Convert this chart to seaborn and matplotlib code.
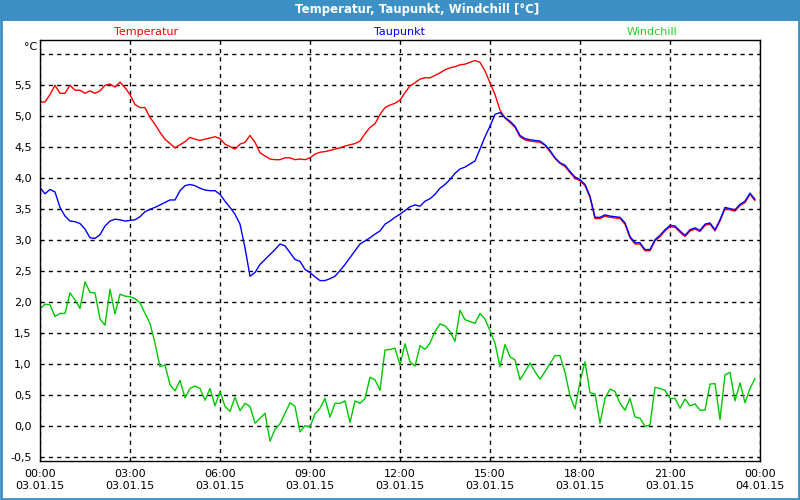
import numpy as np
import pandas as pd
import matplotlib.pyplot as plt
import seaborn as sns
from matplotlib.patches import Rectangle

# Datos: una medición cada 10 minutos (00:00 - 23:50)
horas = np.arange(144) / 6

temperatura = [
    5.23, 5.23, 5.35, 5.50, 5.37, 5.37, 5.50, 5.42, 5.42, 5.37,
    5.41, 5.37, 5.41, 5.50, 5.52, 5.47, 5.55, 5.46, 5.35, 5.19,
    5.14, 5.14, 4.98, 4.87, 4.74, 4.63, 4.56, 4.49, 4.54, 4.59,
    4.66, 4.63, 4.61, 4.63, 4.65, 4.67, 4.64, 4.55, 4.51, 4.47,
    4.55, 4.58, 4.69, 4.58, 4.41, 4.36, 4.31, 4.30, 4.30, 4.33,
    4.33, 4.30, 4.31, 4.30, 4.33, 4.39, 4.42, 4.43, 4.45, 4.47,
    4.49, 4.52, 4.54, 4.56, 4.60, 4.72, 4.82, 4.88, 5.03, 5.14,
    5.18, 5.21, 5.26, 5.38, 5.49, 5.54, 5.60, 5.62, 5.62, 5.66,
    5.70, 5.75, 5.78, 5.80, 5.83, 5.84, 5.87, 5.90, 5.87, 5.73,
    5.54, 5.35, 5.10, 4.97, 4.90, 4.82, 4.67, 4.62, 4.60, 4.59,
    4.58, 4.53, 4.43, 4.32, 4.24, 4.19, 4.09, 4.00, 3.96, 3.88,
    3.69, 3.35, 3.35, 3.39, 3.37, 3.36, 3.35, 3.26, 3.04, 2.94,
    2.94, 2.83, 2.83, 2.99, 3.06, 3.15, 3.22, 3.21, 3.13, 3.06,
    3.15, 3.18, 3.14, 3.24, 3.26, 3.15, 3.31, 3.51, 3.49, 3.47,
    3.56, 3.61, 3.74, 3.64,
]

taupunkt = [
    3.85, 3.75, 3.82, 3.78, 3.53, 3.39, 3.31, 3.30, 3.27, 3.18,
    3.04, 3.03, 3.09, 3.23, 3.31, 3.34, 3.33, 3.31, 3.32, 3.33,
    3.38, 3.46, 3.50, 3.53, 3.57, 3.61, 3.65, 3.65, 3.80, 3.88,
    3.90, 3.88, 3.84, 3.81, 3.80, 3.80, 3.74, 3.63, 3.53, 3.42,
    3.26, 2.88, 2.42, 2.48, 2.61, 2.69, 2.77, 2.85, 2.94, 2.91,
    2.80, 2.69, 2.66, 2.53, 2.48, 2.41, 2.35, 2.35, 2.38, 2.42,
    2.51, 2.61, 2.72, 2.83, 2.94, 2.99, 3.04, 3.10, 3.15, 3.26,
    3.31, 3.37, 3.42, 3.48, 3.54, 3.57, 3.55, 3.63, 3.67, 3.74,
    3.84, 3.90, 3.98, 4.08, 4.15, 4.18, 4.23, 4.28, 4.47, 4.67,
    4.84, 5.03, 5.06, 4.98, 4.92, 4.84, 4.69, 4.64, 4.62, 4.61,
    4.60, 4.54, 4.45, 4.33, 4.25, 4.21, 4.11, 4.02, 3.98, 3.90,
    3.71, 3.37, 3.37, 3.41, 3.39, 3.38, 3.37, 3.28, 3.06, 2.96,
    2.96, 2.85, 2.85, 3.01, 3.08, 3.17, 3.24, 3.23, 3.15, 3.08,
    3.17, 3.20, 3.16, 3.26, 3.28, 3.17, 3.33, 3.53, 3.51, 3.49,
    3.58, 3.63, 3.76, 3.66,
]

windchill = [
    1.89, 1.97, 1.96, 1.77, 1.82, 1.82, 2.15, 2.04, 1.90, 2.33,
    2.16, 2.15, 1.73, 1.63, 2.21, 1.81, 2.13, 2.10, 2.09, 2.06,
    1.99, 1.82, 1.66, 1.34, 0.96, 0.99, 0.67, 0.57, 0.74, 0.46,
    0.61, 0.65, 0.61, 0.42, 0.61, 0.33, 0.56, 0.32, 0.24, 0.47,
    0.25, 0.37, 0.32, 0.05, 0.13, 0.21, -0.24, -0.05, 0.04, 0.21,
    0.38, 0.32, -0.09, 0.01, -0.01, 0.20, 0.29, 0.45, 0.15, 0.37,
    0.37, 0.41, 0.06, 0.41, 0.37, 0.45, 0.79, 0.75, 0.58, 1.23,
    1.24, 1.26, 0.99, 1.33, 1.04, 0.97, 1.30, 1.24, 1.34, 1.53,
    1.65, 1.62, 1.53, 1.37, 1.87, 1.72, 1.69, 1.66, 1.82, 1.73,
    1.54, 1.34, 0.96, 1.32, 1.12, 1.07, 0.75, 0.88, 1.02, 0.88,
    0.76, 0.88, 1.01, 1.14, 1.14, 0.87, 0.49, 0.28, 0.72, 1.04,
    0.54, 0.52, 0.05, 0.45, 0.60, 0.56, 0.37, 0.26, 0.45, 0.15,
    0.13, 0.00, 0.02, 0.63, 0.61, 0.58, 0.45, 0.45, 0.29, 0.44,
    0.33, 0.36, 0.26, 0.26, 0.68, 0.69, 0.11, 0.83, 0.87, 0.41,
    0.70, 0.38, 0.61, 0.77,
]

ticks_x = [0, 3, 6, 9, 12, 15, 18, 21, 24]
etiquetas_x = ['00:00\n03.01.15', '03:00\n03.01.15', '06:00\n03.01.15',
               '09:00\n03.01.15', '12:00\n03.01.15', '15:00\n03.01.15',
               '18:00\n03.01.15', '21:00\n03.01.15', '00:00\n04.01.15']
ticks_y = [-0.5, 0.0, 0.5, 1.0, 1.5, 2.0, 2.5, 3.0, 3.5, 4.0, 4.5, 5.0, 5.5, 6.0]
etiquetas_y = ['-0,5', '0,0', '0,5', '1,0', '1,5', '2,0', '2,5', '3,0',
               '3,5', '4,0', '4,5', '5,0', '5,5', '']

df = pd.DataFrame({'hora': horas, 'Temperatur': temperatura,
                   'Taupunkt': taupunkt, 'Windchill': windchill})

sns.set_style('white')
plt.rcParams['font.family'] = ['DejaVu Sans', 'Noto Sans']

fig = plt.figure(figsize=(8, 5), dpi=100)
fig.patch.set_facecolor('white')

# Barra de título azul y marco
azul = '#3d90c4'
fig.patches.append(Rectangle((0, 1 - 21 / 500), 1, 21 / 500, transform=fig.transFigure,
                             facecolor=azul, edgecolor='none', zorder=0))
fig.patches.append(Rectangle((0.001, 0.002), 0.998, 0.996, transform=fig.transFigure,
                             facecolor='none', edgecolor=azul, linewidth=2, zorder=0))
fig.text(417 / 800, 1 - 10 / 500, 'Temperatur, Taupunkt, Windchill [°C]', color='white',
         fontsize=8.5, fontweight='bold', ha='center', va='center')

ax = fig.add_axes([0.05, 0.078, 0.9, 0.842])

sns.lineplot(data=df, x='hora', y='Temperatur', color='#ff0000', linewidth=1, ax=ax)
sns.lineplot(data=df, x='hora', y='Windchill', color='#00c800', linewidth=1, ax=ax)
sns.lineplot(data=df, x='hora', y='Taupunkt', color='#0000ff', linewidth=1, ax=ax)

ax.set_xlim(0, 24)
ax.set_ylim(-0.56, 6.23)
ax.set_xticks(ticks_x)
ax.set_xticklabels(etiquetas_x)
ax.set_xticks(range(25), minor=True)
ax.set_yticks(ticks_y)
ax.set_yticklabels(etiquetas_y)
ax.set_xlabel('')
ax.set_ylabel('')

# Cuadrícula punteada negra
ax.grid(True, which='major', color='black', linestyle=(0, (3, 3)), linewidth=1)
ax.tick_params(axis='x', which='both', length=4, width=1, color='black',
               direction='out', pad=2, labelsize=8, labelcolor='black')
ax.tick_params(axis='y', length=0, pad=6, labelsize=8, labelcolor='black')
for lado in ax.spines.values():
    lado.set_visible(True)
    lado.set_color('black')
    lado.set_linewidth(1)

# Leyenda como textos de color encima del área del gráfico
fig.text(146 / 800, 1 - 32 / 500, 'Temperatur', color='#ff0000', fontsize=8, ha='center', va='center')
fig.text(399 / 800, 1 - 32 / 500, 'Taupunkt', color='#0000ff', fontsize=8, ha='center', va='center')
fig.text(652 / 800, 1 - 32 / 500, 'Windchill', color='#22cc22', fontsize=8, ha='center', va='center')
fig.text(37 / 800, 1 - 47 / 500, '°C', color='black', fontsize=8, ha='right', va='center')

plt.savefig('out.png', dpi=100)
plt.close()
